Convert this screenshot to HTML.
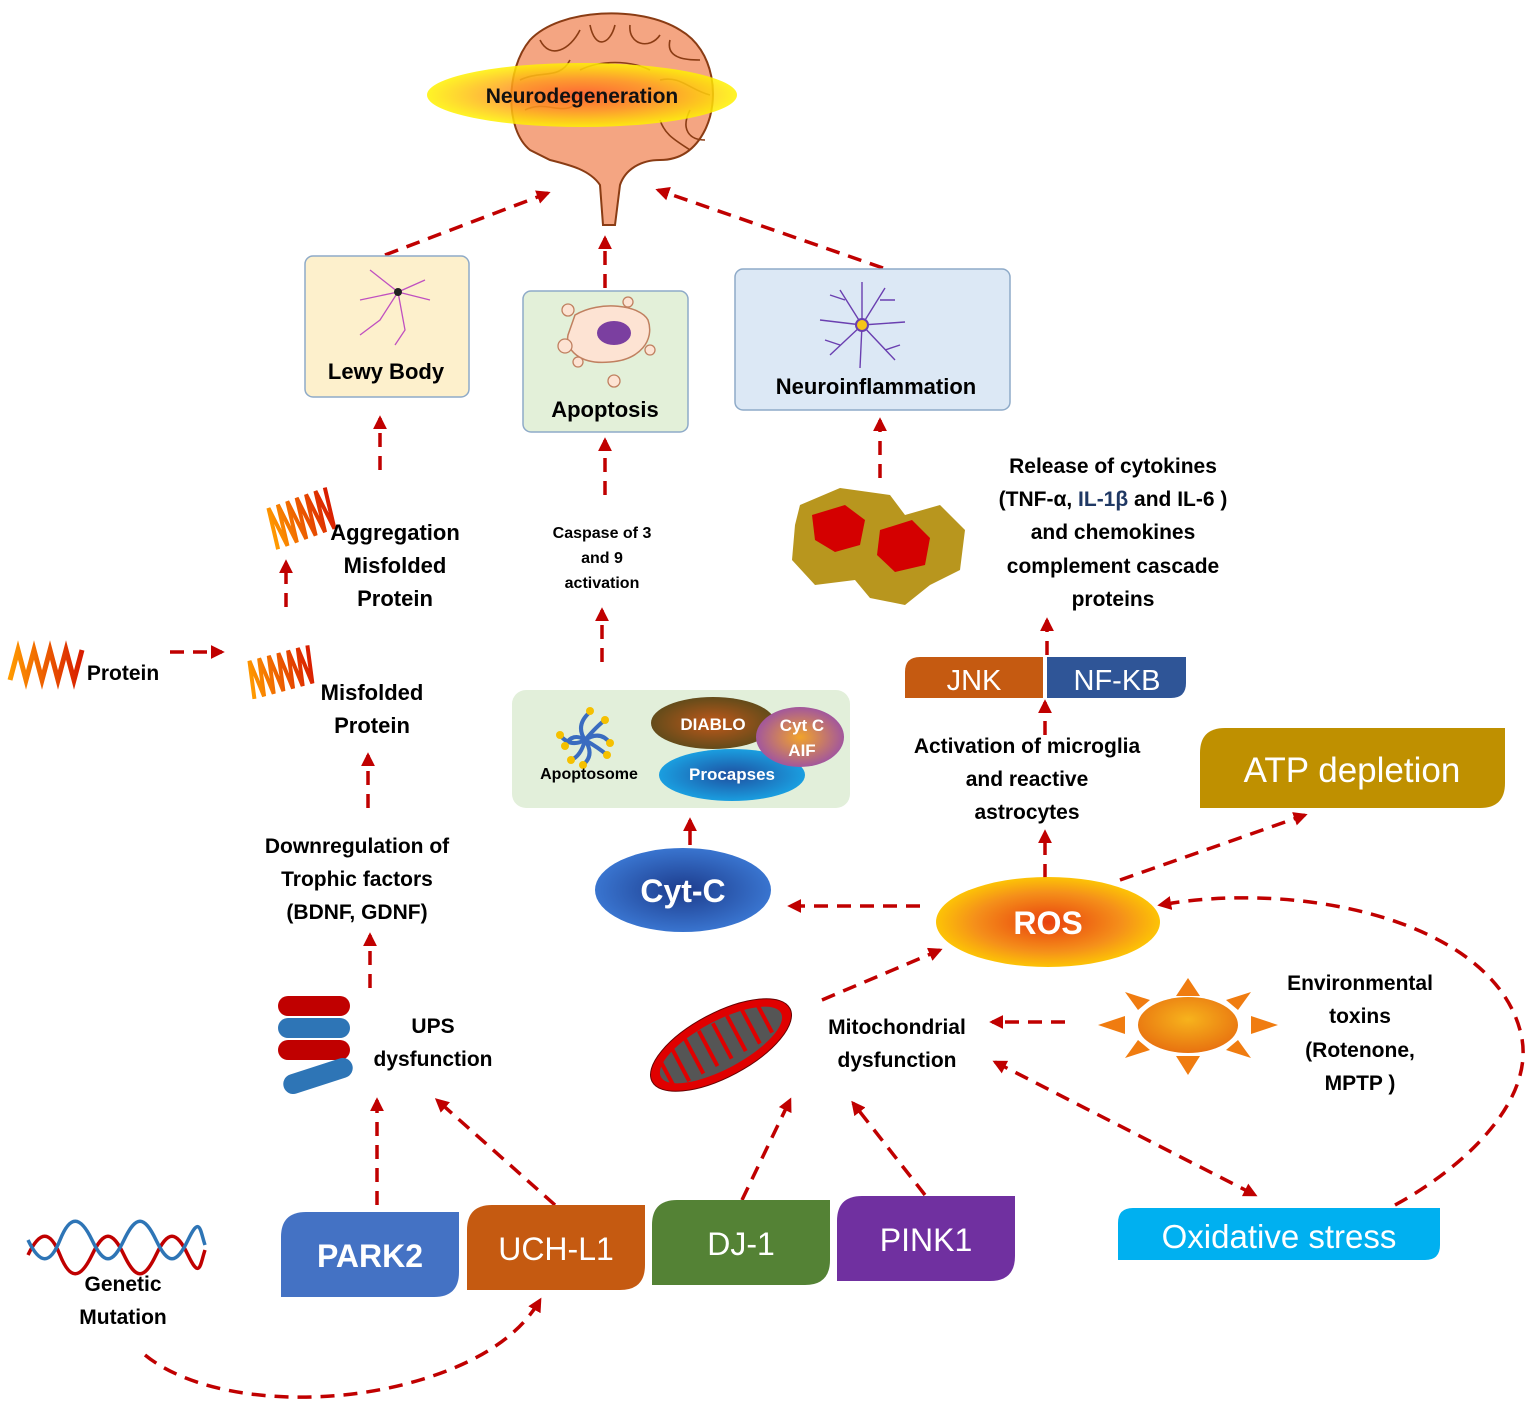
<!DOCTYPE html>
<html><head><meta charset="utf-8"><style>
html,body{margin:0;padding:0;background:#fff}
svg{display:block}
text{font-family:"Liberation Sans",sans-serif;font-weight:bold}
text.n{font-weight:normal}
</style></head><body>
<svg width="1535" height="1406" viewBox="0 0 1535 1406" xmlns="http://www.w3.org/2000/svg">
<defs>
<marker id="ah" viewBox="0 0 10 10" refX="8" refY="5" markerWidth="4" markerHeight="4" orient="auto-start-reverse"><path d="M0,0 L10,5 L0,10 z" fill="#c00000"/></marker>
<radialGradient id="yel" cx="50%" cy="50%" r="50%"><stop offset="0" stop-color="#ff5a28"/><stop offset="0.5" stop-color="#ff9a20"/><stop offset="1" stop-color="#fff200"/></radialGradient>
<radialGradient id="ros" cx="50%" cy="50%" r="55%"><stop offset="0" stop-color="#e8400e"/><stop offset="0.6" stop-color="#f5901a"/><stop offset="1" stop-color="#ffd200"/></radialGradient>
<radialGradient id="cyt" cx="50%" cy="50%" r="55%"><stop offset="0" stop-color="#1d3c8c"/><stop offset="1" stop-color="#3c7ad6"/></radialGradient>
<radialGradient id="proc" cx="50%" cy="50%" r="55%"><stop offset="0" stop-color="#1e4fa0"/><stop offset="1" stop-color="#1aa6e6"/></radialGradient>
<radialGradient id="dia" cx="50%" cy="50%" r="55%"><stop offset="0" stop-color="#c0581a"/><stop offset="1" stop-color="#5a4a1a"/></radialGradient>
<radialGradient id="aif" cx="50%" cy="50%" r="55%"><stop offset="0" stop-color="#f2a42a"/><stop offset="1" stop-color="#9a4fa8"/></radialGradient>
<radialGradient id="sun" cx="50%" cy="40%" r="60%"><stop offset="0" stop-color="#f7b31c"/><stop offset="1" stop-color="#e87210"/></radialGradient>
<linearGradient id="sq" x1="0" y1="0" x2="1" y2="0"><stop offset="0" stop-color="#ff9a00"/><stop offset="1" stop-color="#d81c00"/></linearGradient>
</defs>

<!-- Brain -->
<path d="M530,150 C505,130 505,70 530,40 C560,8 640,5 680,30 C715,50 720,100 705,130 C695,150 680,160 660,160 C640,160 625,170 620,185 L615,225 L603,225 L600,185 C590,170 570,165 550,160 Z" fill="#f4a582" stroke="#8a3c14" stroke-width="2"/>
<g fill="none" stroke="#8a3c14" stroke-width="1.6">
<path d="M540,40 C550,60 570,50 580,30 M590,25 C595,50 610,45 615,25 M630,25 C628,45 650,50 660,35 M670,40 C665,60 690,60 700,60 M520,80 C540,70 560,80 570,60 M580,70 C600,60 630,60 650,70 M660,80 C680,75 690,90 710,95 M525,110 C545,100 560,115 575,105 M690,110 C680,130 690,140 705,140 M660,120 C665,135 675,140 690,150"/>
</g>
<ellipse cx="582" cy="95" rx="155" ry="32" fill="url(#yel)" opacity="0.85"/>
<text x="582" y="103" font-size="21" text-anchor="middle" fill="#111">Neurodegeneration</text>

<g stroke="#c00000" stroke-width="3.5" stroke-dasharray="14 9" fill="none" marker-end="url(#ah)">
<line x1="385" y1="255" x2="548" y2="193"/>
<line x1="605" y1="288" x2="605" y2="238"/>
<line x1="883" y1="268" x2="658" y2="190"/>
<line x1="380" y1="470" x2="380" y2="418"/>
<line x1="286" y1="607" x2="286" y2="562"/>
<line x1="170" y1="652" x2="222" y2="652"/>
<line x1="368" y1="808" x2="368" y2="755"/>
<line x1="370" y1="988" x2="370" y2="935"/>
<line x1="377" y1="1205" x2="377" y2="1100"/>
<line x1="555" y1="1205" x2="437" y2="1100"/>
<line x1="605" y1="495" x2="605" y2="440"/>
<line x1="602" y1="662" x2="602" y2="610"/>
<line x1="690" y1="845" x2="690" y2="820"/>
<line x1="920" y1="906" x2="790" y2="906"/>
<line x1="1120" y1="880" x2="1305" y2="815"/>
<line x1="1045" y1="878" x2="1045" y2="832"/>
<line x1="1045" y1="735" x2="1045" y2="702"/>
<line x1="1047" y1="655" x2="1047" y2="620"/>
<line x1="880" y1="478" x2="880" y2="420"/>
<line x1="822" y1="1000" x2="940" y2="950"/>
<line x1="1065" y1="1022" x2="992" y2="1022"/>
<line x1="742" y1="1200" x2="790" y2="1100"/>
<line x1="925" y1="1195" x2="853" y2="1103"/>
<line x1="995" y1="1062" x2="1255" y2="1195" marker-start="url(#ah)"/>
<path d="M145,1355 C200,1400 320,1410 420,1380 C480,1362 520,1335 540,1300"/>
<path d="M1395,1205 C1460,1170 1540,1100 1520,1030 C1490,920 1300,880 1160,905"/>
</g>

<!-- Lewy body -->
<rect x="305" y="256" width="164" height="141" rx="8" fill="#fdf0cc" stroke="#8eaac8" stroke-width="1.5"/>
<g stroke="#c050c0" stroke-width="1.3" fill="none"><path d="M398,292 L370,270 M398,292 L425,280 M398,292 L380,320 L360,335 M398,292 L405,330 L395,345 M398,292 L360,300 M398,292 L430,300"/></g>
<circle cx="398" cy="292" r="4" fill="#222"/>
<text x="386" y="379" font-size="22" text-anchor="middle">Lewy Body</text>

<!-- Apoptosis -->
<rect x="523" y="291" width="165" height="141" rx="8" fill="#e3f0d9" stroke="#8eaac8" stroke-width="1.5"/>
<path d="M575,315 C600,300 640,305 648,320 C655,340 640,360 610,362 C580,365 565,350 568,335 Z" fill="#fde3d3" stroke="#c08060" stroke-width="1.5"/>
<ellipse cx="614" cy="333" rx="17" ry="12" fill="#7b3fa0"/>
<g fill="#fde3d3" stroke="#c08060" stroke-width="1.3"><circle cx="568" cy="310" r="6"/><circle cx="628" cy="302" r="5"/><circle cx="565" cy="346" r="7"/><circle cx="578" cy="362" r="5"/><circle cx="614" cy="381" r="6"/><circle cx="650" cy="350" r="5"/></g>
<text x="605" y="417" font-size="22" text-anchor="middle">Apoptosis</text>

<!-- Neuroinflammation -->
<rect x="735" y="269" width="275" height="141" rx="8" fill="#dce8f5" stroke="#8eaac8" stroke-width="1.5"/>
<g stroke="#6a3fb0" stroke-width="1.4" fill="none"><path d="M862,325 L840,290 M862,325 L885,288 M862,325 L820,320 M862,325 L905,322 M862,325 L830,355 M862,325 L895,360 M862,325 L860,368 M862,325 L862,282 M845,300 L830,295 M880,300 L895,300 M840,345 L825,340 M885,350 L900,345"/></g>
<circle cx="862" cy="325" r="6" fill="#f5c518" stroke="#6a3fb0" stroke-width="2"/>
<text x="876" y="394" font-size="22" text-anchor="middle">Neuroinflammation</text>

<!-- Protein squiggles -->
<path d="M10,680 l8,-30 l8,30 l8,-30 l8,30 l8,-30 l8,30 l8,-30 l8,30 l8,-30" stroke="url(#sq)" stroke-width="5" fill="none"/>
<text x="123" y="680" font-size="21" text-anchor="middle">Protein</text>
<path d="M248,690 l5,-38 l5,38 l5,-38 l5,38 l5,-38 l5,38 l5,-38 l5,38 l5,-38 l5,38 l5,-38 l5,38 l5,-38" stroke="url(#sq)" stroke-width="4" fill="none" transform="rotate(-15 285 670)"/>
<path d="M268,538 l5,-42 l5,42 l5,-42 l5,42 l5,-42 l5,42 l5,-42 l5,42 l5,-42 l5,42 l5,-42 l5,42 l5,-42" stroke="url(#sq)" stroke-width="4" fill="none" transform="rotate(-20 305 515)"/>
<text font-size="22" text-anchor="middle"><tspan x="395" y="540">Aggregation</tspan><tspan x="395" y="573">Misfolded</tspan><tspan x="395" y="606">Protein</tspan></text>
<text font-size="22" text-anchor="middle"><tspan x="372" y="700">Misfolded</tspan><tspan x="372" y="733">Protein</tspan></text>
<text font-size="21" text-anchor="middle"><tspan x="357" y="853">Downregulation of</tspan><tspan x="357" y="886">Trophic factors</tspan><tspan x="357" y="919">(BDNF, GDNF)</tspan></text>

<!-- UPS -->
<rect x="278" y="996" width="72" height="20" rx="10" fill="#c00000"/>
<rect x="278" y="1018" width="72" height="20" rx="10" fill="#2e75b6"/>
<rect x="278" y="1040" width="72" height="20" rx="10" fill="#c00000"/>
<rect x="282" y="1066" width="72" height="20" rx="10" fill="#2e75b6" transform="rotate(-18 318 1076)"/>
<text font-size="21" text-anchor="middle"><tspan x="433" y="1033">UPS</tspan><tspan x="433" y="1066">dysfunction</tspan></text>

<!-- Genetic -->
<path d="M28,1255 C40,1230 50,1230 60,1255 S80,1280 92,1255 S112,1230 124,1255 S144,1280 156,1255 S176,1230 188,1255 S200,1265 205,1250" stroke="#c00000" stroke-width="3.5" fill="none"/>
<path d="M28,1240 C40,1265 50,1265 60,1240 S80,1215 92,1240 S112,1265 124,1240 S144,1215 156,1240 S176,1265 188,1240 S200,1230 205,1245" stroke="#2e75b6" stroke-width="3.5" fill="none"/>
<text font-size="21" text-anchor="middle"><tspan x="123" y="1291">Genetic</tspan><tspan x="123" y="1324">Mutation</tspan></text>

<!-- Gene boxes -->
<path d="M306,1212 H459 V1272 Q459,1297 434,1297 H281 V1237 Q281,1212 306,1212 Z" fill="#4472c4"/>
<text x="370" y="1267" font-size="32" text-anchor="middle" fill="#fff">PARK2</text>
<path d="M492,1205 H645 V1265 Q645,1290 620,1290 H467 V1230 Q467,1205 492,1205 Z" fill="#c55a11"/>
<text class="n" x="556" y="1260" font-size="32" text-anchor="middle" fill="#fff">UCH-L1</text>
<path d="M677,1200 H830 V1260 Q830,1285 805,1285 H652 V1225 Q652,1200 677,1200 Z" fill="#548235"/>
<text class="n" x="741" y="1255" font-size="32" text-anchor="middle" fill="#fff">DJ-1</text>
<path d="M862,1196 H1015 V1256 Q1015,1281 990,1281 H837 V1221 Q837,1196 862,1196 Z" fill="#7030a0"/>
<text class="n" x="926" y="1251" font-size="32" text-anchor="middle" fill="#fff">PINK1</text>

<!-- Caspase -->
<text font-size="16" text-anchor="middle"><tspan x="602" y="538">Caspase of 3</tspan><tspan x="602" y="563">and 9</tspan><tspan x="602" y="588">activation</tspan></text>

<!-- Apoptosome box -->
<rect x="512" y="690" width="338" height="118" rx="14" fill="#e2efda"/>
<g stroke="#3a6cc0" stroke-width="4" fill="none"><path d="M585,740 q-10,-15 5,-28 M585,740 q15,-10 25,3 M585,740 q10,15 -2,25 M585,740 q-15,8 -25,-5 M585,740 q-12,-8 -20,5 M585,740 q12,-14 20,-20 M585,740 q14,8 22,15 M585,740 q-4,16 -14,20"/></g>
<g fill="#f5c000"><circle cx="590" cy="711" r="4"/><circle cx="610" cy="743" r="4"/><circle cx="583" cy="765" r="4"/><circle cx="560" cy="735" r="4"/><circle cx="565" cy="746" r="4"/><circle cx="605" cy="720" r="4"/><circle cx="607" cy="755" r="4"/><circle cx="571" cy="760" r="4"/></g>
<text x="589" y="779" font-size="16" text-anchor="middle">Apoptosome</text>
<ellipse cx="713" cy="723" rx="62" ry="26" fill="url(#dia)"/>
<text x="713" y="730" font-size="17" text-anchor="middle" fill="#fff">DIABLO</text>
<ellipse cx="732" cy="775" rx="73" ry="26" fill="url(#proc)"/>
<text x="732" y="780" font-size="17" text-anchor="middle" fill="#fff">Procapses</text>
<ellipse cx="800" cy="737" rx="44" ry="30" fill="url(#aif)"/>
<text font-size="17" text-anchor="middle" fill="#fff"><tspan x="802" y="731">Cyt C</tspan><tspan x="802" y="756">AIF</tspan></text>

<!-- Cyt-C -->
<ellipse cx="683" cy="890" rx="88" ry="42" fill="url(#cyt)"/>
<text x="683" y="902" font-size="32" text-anchor="middle" fill="#fff">Cyt-C</text>

<!-- ROS -->
<ellipse cx="1048" cy="922" rx="112" ry="45" fill="url(#ros)"/>
<text x="1048" y="934" font-size="32" text-anchor="middle" fill="#fff">ROS</text>

<!-- ATP -->
<path d="M1225,728 H1505 V783 Q1505,808 1480,808 H1200 V753 Q1200,728 1225,728 Z" fill="#bf9000"/>
<text class="n" x="1352" y="782" font-size="35" text-anchor="middle" fill="#fff">ATP depletion</text>

<text font-size="21" text-anchor="middle"><tspan x="1027" y="753">Activation of microglia</tspan><tspan x="1027" y="786">and reactive</tspan><tspan x="1027" y="819">astrocytes</tspan></text>

<!-- JNK NF-KB -->
<path d="M920,657 H1043 V698 H905 V672 Q905,657 920,657 Z" fill="#c55a11"/>
<text class="n" x="974" y="690" font-size="29" text-anchor="middle" fill="#fff">JNK</text>
<path d="M1047,657 H1186 V683 Q1186,698 1171,698 H1047 Z" fill="#2f5597"/>
<text class="n" x="1117" y="690" font-size="29" text-anchor="middle" fill="#fff">NF-KB</text>

<text font-size="21" text-anchor="middle"><tspan x="1113" y="473">Release of cytokines</tspan><tspan x="1113" y="506">(TNF-α, <tspan fill="#1f3864">IL-1β</tspan> and IL-6 )</tspan><tspan x="1113" y="539">and chemokines</tspan><tspan x="1113" y="573">complement cascade</tspan><tspan x="1113" y="606">proteins</tspan></text>

<!-- Cells -->
<path d="M800,505 L840,488 L890,495 L905,515 L940,505 L965,530 L960,570 L930,585 L905,605 L870,598 L855,580 L815,585 L792,560 L795,525 Z" fill="#b8961e"/>
<path d="M812,515 L845,505 L865,520 L860,545 L835,552 L815,540 Z" fill="#d40000"/>
<path d="M880,530 L912,520 L930,538 L925,565 L895,572 L877,555 Z" fill="#d40000"/>

<!-- Mitochondria -->
<g transform="rotate(-28 721 1045)">
<ellipse cx="721" cy="1045" rx="78" ry="32" fill="#e00000" stroke="#600" stroke-width="1"/>
<ellipse cx="721" cy="1045" rx="68" ry="24" fill="#555"/>
<path d="M660,1030 v28 M676,1022 v40 M692,1022 v40 M708,1022 v40 M724,1022 v40 M740,1022 v40 M756,1022 v40 M772,1026 v32" stroke="#e00000" stroke-width="4"/>
</g>
<text font-size="21" text-anchor="middle"><tspan x="897" y="1034">Mitochondrial</tspan><tspan x="897" y="1067">dysfunction</tspan></text>

<!-- Sun -->
<g fill="#f07c10">
<polygon points="1188,978 1176,996 1200,996"/><polygon points="1188,1075 1176,1056 1200,1056"/>
<polygon points="1098,1025 1125,1016 1125,1034"/><polygon points="1278,1025 1251,1016 1251,1034"/>
<polygon points="1125,992 1150,1000 1138,1010"/><polygon points="1251,992 1226,1000 1238,1010"/>
<polygon points="1125,1058 1150,1050 1138,1040"/><polygon points="1251,1058 1226,1050 1238,1040"/>
</g>
<ellipse cx="1188" cy="1025" rx="50" ry="28" fill="url(#sun)"/>
<text font-size="21" text-anchor="middle"><tspan x="1360" y="990">Environmental</tspan><tspan x="1360" y="1023">toxins</tspan><tspan x="1360" y="1057">(Rotenone,</tspan><tspan x="1360" y="1090">MPTP )</tspan></text>

<!-- Oxidative stress -->
<path d="M1133,1208 H1440 V1245 Q1440,1260 1425,1260 H1118 V1223 Q1118,1208 1133,1208 Z" fill="#00b0f0"/>
<text class="n" x="1279" y="1248" font-size="33" text-anchor="middle" fill="#fff">Oxidative stress</text>
</svg>
</body></html>
